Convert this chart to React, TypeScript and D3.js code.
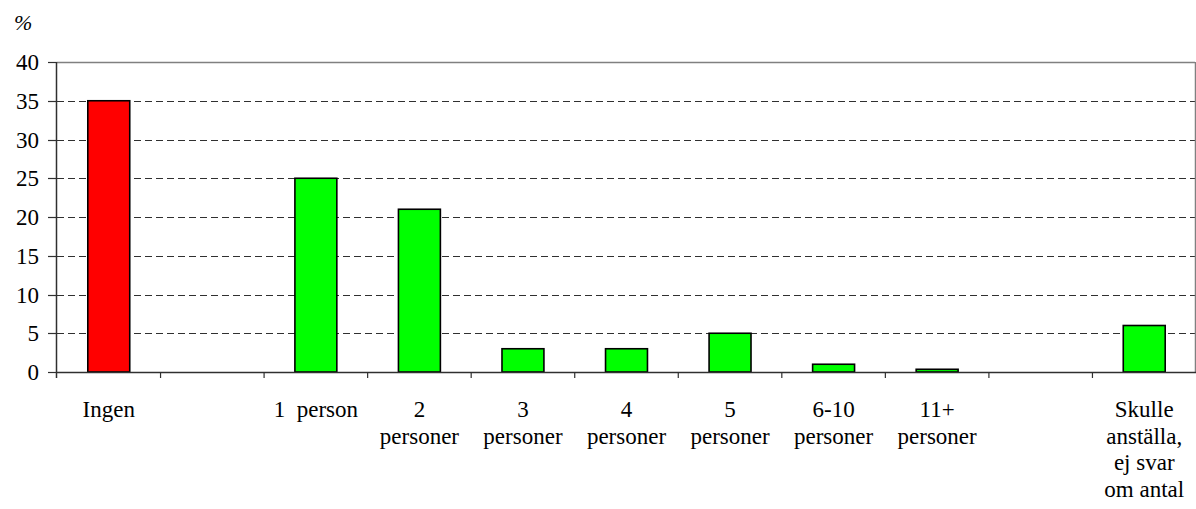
import { useEffect, useRef } from 'react';
import * as d3 from 'd3';

const categories: string[][] = [
  ['Ingen'],
  [],
  ['1\u00a0 person'],
  ['2', 'personer'],
  ['3', 'personer'],
  ['4', 'personer'],
  ['5', 'personer'],
  ['6-10', 'personer'],
  ['11+', 'personer'],
  [],
  ['Skulle', 'anställa,', 'ej svar', 'om antal'],
];
const values: (number | null)[] = [35, null, 25, 21, 3, 3, 5, 1, 0.35, null, 6];
const barColors: string[] = ['#ff0000', '', '#00ff00', '#00ff00', '#00ff00', '#00ff00', '#00ff00', '#00ff00', '#00ff00', '', '#00ff00'];
const yTicks = [0, 5, 10, 15, 20, 25, 30, 35, 40];

const FONT = 'Liberation Serif';

export default function App() {
  const rootRef = useRef<HTMLDivElement>(null);

  useEffect(() => {
    const container = rootRef.current;
    if (!container) return undefined;
    d3.select(container).selectAll('*').remove();

    const width = 1196;
    const height = 509;
    const left = 57;
    const right = 1195;
    const top = 62;
    const bottom = 372;

    const svg = d3
      .select(container)
      .append('svg')
      .attr('width', width)
      .attr('height', height)
      .style('position', 'absolute')
      .style('left', '0px')
      .style('top', '0px')
      .style('background', '#fff');

    const keys = categories.map((_, i) => String(i));
    const x = d3.scaleBand<string>().domain(keys).range([left, right + 1]).padding(0);
    const y = d3.scaleLinear().domain([0, 40]).range([bottom, top]);
    const barW = x.bandwidth() * 0.405;
    const cx = (i: number) => (x(keys[i]) as number) + x.bandwidth() / 2;
    const py = (t: number) => Math.round(y(t)) + 0.5;

    // dashed gridlines
    svg
      .selectAll('line.grid')
      .data(yTicks.filter(t => t > 0 && t < 40))
      .join('line')
      .attr('class', 'grid')
      .attr('x1', left)
      .attr('x2', right)
      .attr('y1', py)
      .attr('y2', py)
      .attr('stroke', '#303030')
      .attr('stroke-dasharray', '7,4');

    // plot border top / right
    svg.append('line').attr('x1', left).attr('x2', right).attr('y1', top + 0.5).attr('y2', top + 0.5)
      .attr('stroke', '#808080').attr('stroke-width', 1.5);
    svg.append('line').attr('x1', right + 0.5).attr('x2', right + 0.5).attr('y1', top).attr('y2', bottom)
      .attr('stroke', '#808080').attr('stroke-width', 1.5);

    // bars
    const bars = values.map((v, i) => ({ v, i })).filter(d => d.v != null) as { v: number; i: number }[];
    svg
      .selectAll('rect.bar')
      .data(bars)
      .join('rect')
      .attr('class', 'bar')
      .attr('x', d => cx(d.i) - barW / 2)
      .attr('y', d => y(d.v))
      .attr('width', barW)
      .attr('height', d => y(0) - y(d.v))
      .attr('fill', d => barColors[d.i])
      .attr('stroke', '#000')
      .attr('stroke-width', 1.6);

    // y axis
    svg.append('line').attr('x1', left - 0.5).attr('x2', left - 0.5).attr('y1', top).attr('y2', bottom + 6)
      .attr('stroke', '#303030').attr('stroke-width', 1.5);
    svg
      .selectAll('line.ytick')
      .data(yTicks)
      .join('line')
      .attr('class', 'ytick')
      .attr('x1', 48)
      .attr('x2', left)
      .attr('y1', py)
      .attr('y2', py)
      .attr('stroke', '#303030')
      .attr('stroke-width', 1.2);
    svg
      .selectAll('text.ylabel')
      .data(yTicks)
      .join('text')
      .attr('class', 'ylabel')
      .attr('x', 39)
      .attr('y', t => y(t) + 8)
      .attr('text-anchor', 'end')
      .attr('font-family', FONT)
      .style('font-family', FONT)
      .attr('font-size', 23)
      .attr('fill', '#000')
      .text(t => String(t));

    // x axis
    svg.append('line').attr('x1', left - 1).attr('x2', right + 1).attr('y1', bottom + 0.5).attr('y2', bottom + 0.5)
      .attr('stroke', '#303030').attr('stroke-width', 1.5);
    svg
      .selectAll('line.xtick')
      .data(keys.slice(1))
      .join('line')
      .attr('class', 'xtick')
      .attr('x1', k => x(k) as number)
      .attr('x2', k => x(k) as number)
      .attr('y1', bottom)
      .attr('y2', bottom + 6)
      .attr('stroke', '#303030')
      .attr('stroke-width', 1.2);

    const labelRows = categories.flatMap((lines, i) => lines.map((l, j) => ({ l, i, j })));
    svg
      .selectAll('text.xlabel')
      .data(labelRows)
      .join('text')
      .attr('class', 'xlabel')
      .attr('x', d => cx(d.i))
      .attr('y', d => 417 + d.j * 26.5)
      .attr('text-anchor', 'middle')
      .attr('font-family', FONT)
      .style('font-family', FONT)
      .attr('font-size', 23)
      .attr('fill', '#000')
      .text(d => d.l);

    svg
      .append('text')
      .attr('x', 14)
      .attr('y', 30)
      .attr('font-family', FONT)
      .style('font-family', FONT)
      .attr('font-size', 22)
      .attr('font-style', 'italic')
      .attr('fill', '#000')
      .text('%');

    return () => {
      d3.select(container).selectAll('*').remove();
    };
  }, []);

  return <div ref={rootRef} />;
}
